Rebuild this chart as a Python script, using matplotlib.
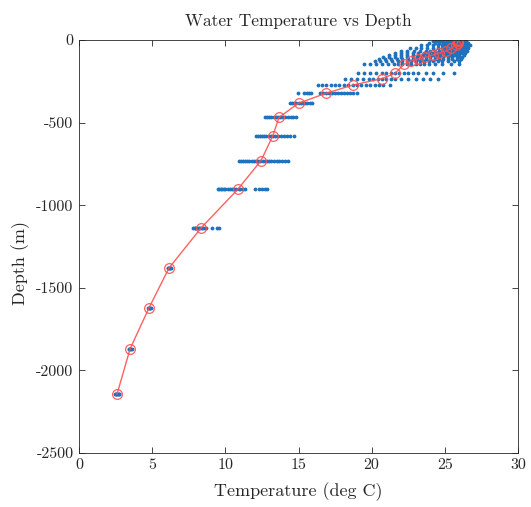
import matplotlib
matplotlib.use("Agg")
import matplotlib.pyplot as plt

plt.rcParams['font.family'] = ['cmr10', 'DejaVu Serif']
plt.rcParams['axes.unicode_minus'] = False

# Mean profile (red line with circles)
mean_depth = [0, -4, -8, -16, -30, -50, -67, -79, -91, -105, -115, -127, -147, -202, -234,
              -272, -323, -383, -468, -581, -730, -904, -1138, -1380, -1622, -1870, -2143]
mean_temp = [25.93, 25.92, 25.9, 25.88, 25.75, 25.43, 25.07, 24.6, 24.18, 23.65, 23.15, 22.7,
             22.2, 21.6, 20.69, 18.75, 16.86, 15.0, 13.67, 13.24, 12.44, 10.85, 8.34, 6.15,
             4.78, 3.49, 2.6]

# Individual observations (blue dots), one list per depth level
obs = {
    0: [24.5, 24.7, 24.9, 25.05, 25.2, 25.3, 25.4, 25.5, 25.6, 25.65, 25.7, 25.8, 25.85,
        25.9, 26.0, 26.05, 26.1, 26.2, 26.3],
    -4: [24.4, 24.65, 24.9, 25.1, 25.25, 25.4, 25.5, 25.6, 25.7, 25.8, 25.9, 25.95, 26.0,
         26.1, 26.2, 26.3, 26.4],
    -8: [24.2, 24.5, 24.8, 25.0, 25.2, 25.35, 25.5, 25.6, 25.7, 25.8, 25.9, 26.0, 26.1,
         26.2, 26.3, 26.45],
    -16: [23.9, 24.3, 24.6, 24.9, 25.1, 25.3, 25.45, 25.6, 25.7, 25.8, 25.9, 26.0, 26.1,
          26.2, 26.3, 26.45, 26.6],
    -30: [23.4, 23.8, 24.2, 24.5, 24.8, 25.0, 25.2, 25.4, 25.55, 25.7, 25.8, 25.9, 26.0,
          26.1, 26.25, 26.4, 26.55, 26.7],
    -50: [22.6, 23.0, 23.4, 23.8, 24.2, 24.5, 24.8, 25.0, 25.2, 25.4, 25.55, 25.7, 25.85,
          26.0, 26.15, 26.3, 26.45, 26.6],
    -67: [22.0, 22.4, 22.9, 23.3, 23.7, 24.0, 24.3, 24.6, 24.9, 25.1, 25.3, 25.5, 25.7,
          25.9, 26.05, 26.2, 26.35, 26.5],
    -79: [21.6, 22.0, 22.4, 22.8, 23.2, 23.6, 23.9, 24.2, 24.5, 24.8, 25.0, 25.2, 25.4,
          25.6, 25.8, 26.0, 26.2, 26.4],
    -91: [21.2, 21.6, 22.0, 22.4, 22.8, 23.2, 23.5, 23.8, 24.1, 24.4, 24.7, 25.0, 25.2,
          25.4, 25.6, 25.8, 26.0, 26.3],
    -105: [20.8, 21.2, 21.6, 22.0, 22.4, 22.8, 23.1, 23.4, 23.7, 24.0, 24.3, 24.6, 24.9,
           25.2, 25.5, 25.8, 26.0, 26.2],
    -115: [20.5, 20.9, 21.3, 21.7, 22.1, 22.5, 22.8, 23.1, 23.4, 23.7, 24.0, 24.3, 24.6,
           24.9, 25.2, 25.5, 25.8, 26.1],
    -127: [20.2, 20.6, 21.0, 21.4, 21.8, 22.1, 22.4, 22.7, 23.0, 23.3, 23.6, 23.9, 24.2,
           24.5, 24.8, 25.2, 25.6, 26.0],
    -147: [19.5, 19.9, 20.3, 20.7, 21.1, 21.5, 21.8, 22.1, 22.4, 22.7, 23.0, 23.3, 23.6,
           23.9, 24.3, 24.8, 25.4, 26.0],
    -202: [19.1, 19.5, 19.9, 20.3, 20.7, 21.0, 21.3, 21.6, 21.9, 22.2, 22.5, 22.8, 23.2,
           23.7, 24.2, 24.9, 25.6],
    -234: [18.2, 18.6, 19.0, 19.4, 19.8, 20.1, 20.4, 20.7, 21.0, 21.3, 21.6, 22.0, 22.5,
           23.0, 23.5, 24.0, 24.5],
    -272: [16.3, 16.6, 16.9, 17.2, 17.5, 17.8, 18.1, 18.4, 18.7, 19.0, 19.3, 19.6, 19.9,
           20.2, 20.5, 20.8, 21.25],
    -323: [14.97, 15.4, 15.55, 15.7, 15.85, 16.5, 16.7, 16.9, 17.1, 17.3, 17.5, 17.7, 17.9,
           18.1, 18.3, 18.5, 18.75, 19.0],
    -383: [14.4, 14.55, 14.7, 14.85, 15.0, 15.15, 15.3, 15.45, 15.6, 15.8, 15.95],
    -468: [12.7, 12.85, 13.0, 13.15, 13.3, 13.45, 13.6, 13.75, 13.9, 14.1, 14.3, 14.5, 14.65,
           14.8],
    -581: [12.07, 12.2, 12.35, 12.5, 12.65, 12.8, 12.95, 13.1, 13.25, 13.4, 13.6, 13.8, 14.0,
           14.2, 14.45, 14.7],
    -730: [10.9, 11.05, 11.2, 11.35, 11.5, 11.65, 11.8, 11.95, 12.1, 12.25, 12.4, 12.55, 12.7,
           12.85, 13.0, 13.15, 13.3, 13.5, 13.7, 13.9, 14.05, 14.25],
    -904: [9.5, 9.6, 9.7, 9.8, 9.9, 10.0, 10.15, 10.3, 10.45, 10.6, 10.75, 10.9, 11.0, 11.2,
           11.35, 12.0, 12.3, 12.5, 12.7, 12.85],
    -1138: [7.8, 7.9, 7.95, 8.0, 8.1, 8.2, 8.3, 8.4, 8.5, 8.6, 8.7, 9.1, 9.4, 9.6],
    -1380: [6.05, 6.1, 6.15, 6.2, 6.25, 6.3],
    -1622: [4.7, 4.75, 4.8, 4.85, 4.9],
    -1870: [3.4, 3.45, 3.5, 3.55, 3.6],
    -2143: [2.45, 2.5, 2.55, 2.6, 2.65, 2.7, 2.75],
}

x_ticks = [0, 5, 10, 15, 20, 25, 30]
y_ticks = [-2500, -2000, -1500, -1000, -500, 0]

fig = plt.figure(figsize=(5.31, 5.07), dpi=100)
ax = fig.add_axes([79 / 531, 1 - 453 / 507, 439 / 531, 413 / 507])

for d, temps in obs.items():
    ax.plot(temps, [d] * len(temps), linestyle='none', marker='.', markersize=3.5,
            color='#1f72bd')

ax.plot(mean_temp, mean_depth, '-o', color='#FF5050', linewidth=1.0, markersize=7,
        markerfacecolor='none', markeredgewidth=0.9, alpha=0.9)

ax.set_xlim(0, 30)
ax.set_ylim(-2500, 0)
ax.set_xticks(x_ticks)
ax.set_yticks(y_ticks)
ax.set_xticklabels([str(v) for v in x_ticks])
ax.set_yticklabels([str(v) for v in y_ticks])
ax.tick_params(direction='in', length=4, width=0.6, top=True, right=True,
               labelsize=11.5, colors='#262626', pad=4)
for s in ax.spines.values():
    s.set_linewidth(0.6)
    s.set_color('#262626')

ax.set_title('Water Temperature vs Depth', fontsize=12.5, color='#262626', pad=10)
ax.set_xlabel('Temperature (deg C)', fontsize=13, color='#262626', labelpad=7)
ax.set_ylabel('Depth (m)', fontsize=13, color='#262626')
ax.yaxis.set_label_coords(-0.112, 0.46)

fig.savefig('out.png', dpi=100)
